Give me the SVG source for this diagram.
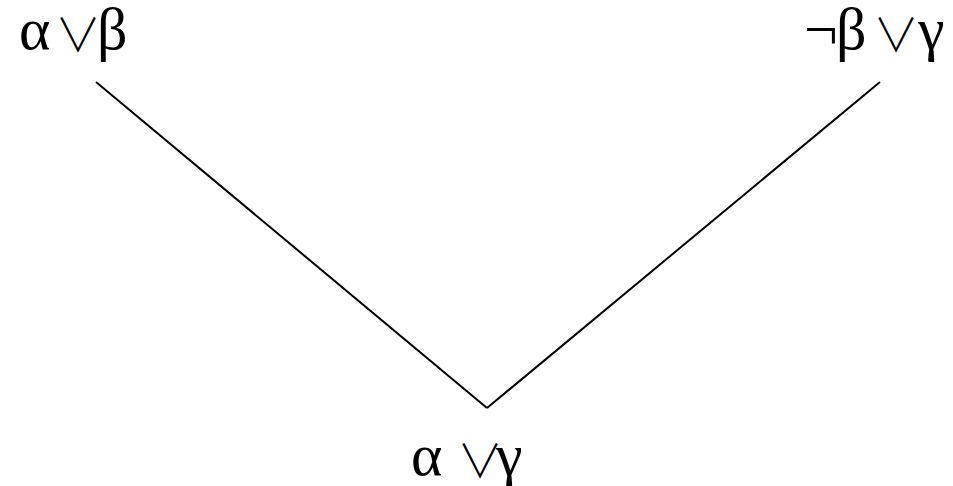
<svg xmlns="http://www.w3.org/2000/svg" width="953" height="486" viewBox="0 0 953 486">
<style>
text{font-family:"Liberation Serif","DejaVu Serif",serif;font-size:60px;fill:#000}
.o{font-family:"Noto Sans CJK JP","DejaVu Sans",sans-serif;font-weight:300;font-size:46px}
.c{stroke:#000;stroke-width:2;fill:none}
</style>
<rect width="953" height="486" fill="#fff"/>
<g id="connectors">
<line class="c" x1="96" y1="82" x2="487" y2="408"/>
<line class="c" x1="880" y1="82" x2="487" y2="408"/>
</g>
<g id="n1"><text y="49"><tspan x="19">α</tspan><tspan class="o" x="55" y="51">∨</tspan><tspan x="97" y="49">β</tspan></text></g>
<g id="n2"><text y="49"><tspan x="804">¬</tspan><tspan x="836">β</tspan><tspan class="o" x="873" y="51">∨</tspan><tspan x="918" y="49">γ</tspan></text></g>
<g id="n3"><text y="475"><tspan x="411">α</tspan><tspan class="o" x="457" y="477">∨</tspan><tspan x="496" y="475">γ</tspan></text></g>
</svg>
